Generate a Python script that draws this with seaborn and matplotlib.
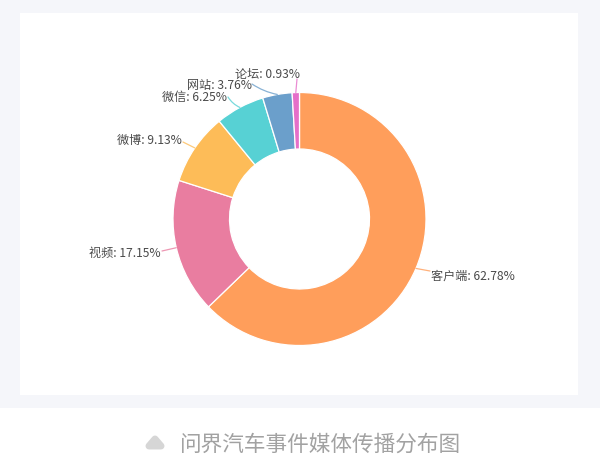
import numpy as np
import matplotlib
matplotlib.use("Agg")
import matplotlib.pyplot as plt
from matplotlib.patches import Rectangle, Polygon
import seaborn as sns

categories = ["客户端", "视频", "微博", "微信", "网站", "论坛"]
values = [62.78, 17.15, 9.13, 6.25, 3.76, 0.93]
colors = ["#FF9E5B", "#E97DA0", "#FDBC58", "#57D1D4", "#6B9FCB", "#E56FC9"]
title = "问界汽车事件媒体传播分布图"

# label anchor (x, y in px from top-left), alignment
label_pos = [(431, 276, "left"), (161, 253, "right"), (182, 140, "right"),
             (227, 97, "right"), (252, 86, "right"), (300, 74, "right")]
# leader-line far end (px from top-left), arc curvature
leader_end = [(430, 272, 0.0), (162, 252, 0.0), (183, 143, 0.0),
              (228, 98, 0.15), (252, 85, 0.1), (297, 80, 0.0)]

sns.set_theme(style="white")
plt.rcParams["font.family"] = ["Noto Sans CJK SC", "DejaVu Sans"]

W, H = 600, 456
fig = plt.figure(figsize=(W / 100, H / 100), dpi=100)
ax = fig.add_axes([0, 0, 1, 1])

def Y(y):
    return H - y

ax.add_patch(Rectangle((0, Y(408.5)), W, 408.5, color="#F5F6FA", zorder=0, lw=0))
ax.add_patch(Rectangle((20, Y(395.5)), 558, 381.5, color="white", zorder=0.5, lw=0))

cx, cy, R, r = 299.5, 220, 126.5, 70
wedges, _ = ax.pie(values, colors=colors, startangle=90, counterclock=False,
                   center=(cx, Y(cy)), radius=R, frame=True,
                   wedgeprops=dict(width=R - r, edgecolor="white", linewidth=0.9))
ax.set_xlim(0, W)
ax.set_ylim(0, H)
ax.set_aspect("auto")
ax.axis("off")

for w, cat, val, col, (lx, ly, ha), (ex, ey, rad) in zip(wedges, categories, values, colors, label_pos, leader_end):
    a = np.deg2rad((w.theta1 + w.theta2) / 2)
    p = (cx + R * np.cos(a), Y(cy) + R * np.sin(a))
    ax.annotate("", xy=p, xytext=(ex, Y(ey)),
                arrowprops=dict(arrowstyle="-", color=col, lw=0.9, alpha=0.8, shrinkA=0, shrinkB=0,
                                connectionstyle=f"arc3,rad={rad}"), zorder=4)
    ax.text(lx, Y(ly), f"{cat}: {val:.2f}%", ha=ha, va="center",
            fontsize=8.7, color="#4A4A4A", zorder=5)

ax.add_patch(Polygon([(149, Y(447)), (161, Y(447)), (155, Y(440))], closed=True,
                     facecolor="#D6D6D6", edgecolor="#D6D6D6", lw=5, joinstyle="round", zorder=3))
ax.text(180, Y(445), title, fontsize=15.6, color="#A2A2A2", ha="left", va="center", zorder=3)

fig.savefig("out.png", dpi=100)
